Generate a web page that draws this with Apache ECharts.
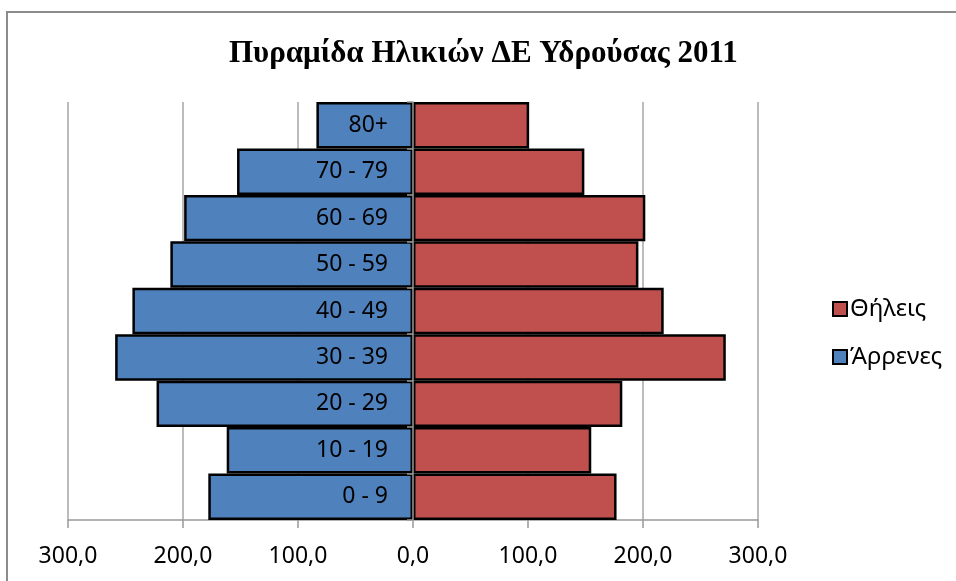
<!DOCTYPE html>
<html>
<head>
<meta charset="utf-8">
<title>Πυραμίδα Ηλικιών ΔΕ Υδρούσας 2011</title>
<script src="https://cdn.jsdelivr.net/npm/echarts@6/dist/echarts.min.js"></script>
<style>
  html, body { margin: 0; padding: 0; background: #fff; }
  #chart { width: 956px; height: 581px; }
</style>
</head>
<body>
<div id="chart"></div>
<script>
// ==================== 数据 ====================

// ηλικιακές ομάδες (από κάτω προς τα πάνω)
const ageGroups = ['0 - 9', '10 - 19', '20 - 29', '30 - 39', '40 - 49', '50 - 59', '60 - 69', '70 - 79', '80+'];

// Άρρενες (αρνητικές τιμές για την αριστερή πλευρά)
const males = [-178, -162, -223, -259, -244, -211, -199, -153, -84];

// Θήλεις
const females = [177, 155, 182, 272, 218, 196, 202, 149, 101];

// άξονας x
const xTicks = { min: -300, max: 300, step: 100 };

// ==================== 格式化 ====================

// απόλυτη τιμή με κόμμα δεκαδικών
function formatAbs(v) {
  return Math.abs(v).toFixed(1).replace('.', ',');
}

const labelFont = "'Noto Sans', sans-serif";

const chart = echarts.init(document.getElementById('chart'));

const option = {
  backgroundColor: '#fff',
  animation: false,
  title: {
    text: 'Πυραμίδα Ηλικιών ΔΕ Υδρούσας 2011',
    left: 224,
    top: 33,
    textStyle: {
      fontFamily: "'Liberation Serif', serif",
      fontWeight: 'bold',
      fontSize: 31,
      color: '#000'
    }
  },
  graphic: [{
    type: 'rect',
    shape: { x: 7, y: 12, width: 960, height: 600 },
    style: { fill: 'none', stroke: '#8c8c8c', lineWidth: 2 },
    silent: true
  }],
  legend: {
    orient: 'vertical',
    left: 827,
    top: 292,
    itemWidth: 14,
    itemHeight: 14,
    itemGap: 24,
    icon: 'rect',
    data: ['Θήλεις', 'Άρρενες'],
    textStyle: { fontFamily: labelFont, fontSize: 24, color: '#000', padding: [0, 0, 0, -2] }
  },
  grid: { left: 68, right: 198, top: 102, bottom: 61, containLabel: false, outerBoundsMode: 'none' },
  xAxis: {
    type: 'value',
    min: xTicks.min,
    max: xTicks.max,
    interval: xTicks.step,
    axisLine: { show: true, lineStyle: { color: '#999', width: 1.5 } },
    axisTick: { show: true, length: 8, lineStyle: { color: '#999', width: 1.5 } },
    splitLine: { show: true, lineStyle: { color: '#a6a6a6', width: 1.5 } },
    axisLabel: {
      formatter: formatAbs,
      fontFamily: labelFont,
      fontSize: 23,
      color: '#000',
      margin: 25
    }
  },
  yAxis: {
    type: 'category',
    data: ageGroups,
    z: 10,
    axisLine: { onZero: true, lineStyle: { color: '#999', width: 1.5 } },
    axisTick: { show: true, length: 6, lineStyle: { color: '#999', width: 1.5 } },
    axisLabel: { show: false }
  },
  series: [
    {
      name: 'Άρρενες',
      type: 'bar',
      data: males,
      barGap: '-100%',
      barCategoryGap: '0%',
      itemStyle: { color: '#4f81bd', borderColor: '#000', borderWidth: 2.5 },
      label: {
        show: true,
        position: 'insideRight',
        distance: 25,
        formatter: p => p.name,
        fontFamily: labelFont,
        fontSize: 23,
        color: '#000'
      }
    },
    {
      name: 'Θήλεις',
      type: 'bar',
      data: females,
      barGap: '-100%',
      barCategoryGap: '0%',
      itemStyle: { color: '#c0504d', borderColor: '#000', borderWidth: 2.5 }
    }
  ]
};

chart.setOption(option);
</script>
</body>
</html>
